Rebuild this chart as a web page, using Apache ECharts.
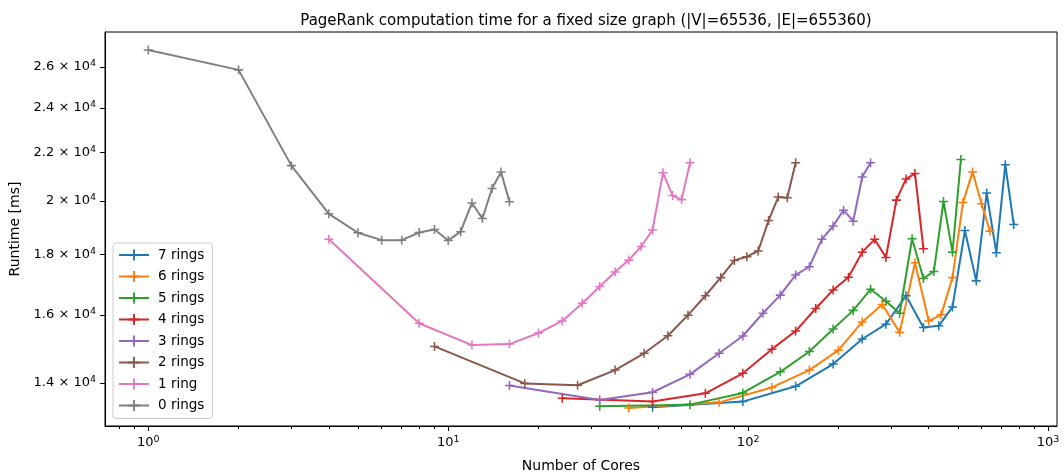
<!DOCTYPE html>
<html>
<head>
<meta charset="utf-8">
<script src="https://cdn.jsdelivr.net/npm/echarts@6/dist/echarts.min.js"></script>
<style>
html,body{margin:0;padding:0;background:#fff;}
#chart{width:1064px;height:475px;}
</style>
</head>
<body>
<div id="chart"></div>
<script>
var seriesNames = ['7 rings','6 rings','5 rings','4 rings','3 rings','2 rings','1 ring','0 rings'];

var cores7 = [48,96,144,192,240,288,336,384,432,480,528,576,624,672,720,768];
var rt7 = [13350,13500,13910,14530,15260,15710,16610,15610,15660,16250,18870,17100,20310,18070,21470,19100];

var cores6 = [40,80,120,160,200,240,280,320,360,400,440,480,520,560,600,640];
var rt6 = [13330,13480,13880,14360,14930,15780,16330,15460,17720,15810,16000,17210,19940,21160,19890,18850];

var cores5 = [32,64,96,128,160,192,224,256,288,320,352,384,416,448,480,512];
var rt5 = [13380,13420,13730,14310,14890,15560,16140,16820,16430,16050,18570,17180,17420,19980,18090,21690];

var cores4 = [24,48,72,96,120,144,168,192,216,240,264,288,312,336,360,384];
var rt4 = [13590,13500,13720,14270,14960,15500,16200,16800,17220,18090,18550,17900,20030,20880,21100,18210];

var cores3 = [16,32,48,64,80,96,112,128,144,160,176,192,208,224,240,256];
var rt3 = [13930,13540,13750,14240,14840,15350,16050,16630,17300,17580,18550,19040,19640,19220,20960,21550];

var cores2 = [9,18,27,36,45,54,63,72,81,90,99,108,117,126,135,144];
var rt2 = [15040,13990,13940,14360,14840,15360,15990,16610,17210,17800,17930,18130,19250,20150,20120,21550];

var cores1 = [4,8,12,16,20,24,28,32,36,40,44,48,52,56,60,64];
var rt1 = [18550,15740,15080,15110,15440,15810,16370,16910,17400,17810,18290,18890,21130,20210,20050,21550];

var cores0 = [1,2,3,4,5,6,7,8,9,10,11,12,13,14,15,16];
var rt0 = [26880,25850,21430,19500,18790,18520,18520,18800,18910,18510,18830,19920,19320,20490,21160,19970];

var xMajorTicks = [1,10,100,1000];
var xMinorTicks = [0.8,0.9,2,3,4,5,6,7,8,9,20,30,40,50,60,70,80,90,200,300,400,500,600,700,800,900];
var yTicks = [14000,16000,18000,20000,22000,24000,26000];

var colors = ['#1f77b4','#ff7f0e','#2ca02c','#d62728','#9467bd','#8c564b','#e377c2','#7f7f7f'];
var allCores = [cores7,cores6,cores5,cores4,cores3,cores2,cores1,cores0];
var allRt = [rt7,rt6,rt5,rt4,rt3,rt2,rt1,rt0];

var plus = 'path://M0,4.15 H10 V5.85 H0 Z M4.15,0 H5.85 V10 H4.15 Z';
var FONT = 'DejaVu Sans';

var series = seriesNames.map(function(name, i){
  return {
    name: name,
    type: 'line',
    xAxisIndex: 0,
    data: allCores[i].map(function(c, j){ return [c, allRt[i][j]]; }),
    symbol: plus,
    symbolSize: 9,
    showAllSymbol: true,
    color: colors[i],
    lineStyle: {width: 2, color: colors[i]},
    itemStyle: {color: colors[i]},
    emphasis: {disabled: true},
    animation: false
  };
});

var chart = echarts.init(document.getElementById('chart'), null, {renderer: 'canvas'});
chart.setOption({
  animation: false,
  backgroundColor: '#fff',
  textStyle: {fontFamily: FONT},
  title: {
    text: 'PageRank computation time for a fixed size graph (|V|=65536, |E|=655360)',
    left: 581, top: 9, textAlign: 'center',
    textStyle: {fontFamily: FONT, fontSize: 15, fontWeight: 'normal', color: '#000'}
  },
  grid: {left: 105, right: 7, top: 32, bottom: 49, containLabel: false, outerBoundsMode: 'none',
         show: true, borderColor: '#000', borderWidth: 1, backgroundColor: 'transparent'},
  legend: {
    orient: 'vertical', left: 113, top: 243,
    data: seriesNames,
    itemWidth: 30, itemHeight: 14, itemGap: 7.5,
    padding: [5, 8, 6, 5],
    backgroundColor: 'rgba(255,255,255,0.8)',
    borderColor: '#cccccc', borderWidth: 1, borderRadius: 3,
    textStyle: {fontFamily: FONT, fontSize: 13.5, color: '#000', padding: [0,0,0,4]},
    selectedMode: false
  },
  xAxis: [{
    type: 'log', logBase: 10, min: 0.7174, max: 1070.7,
    name: 'Number of Cores', nameLocation: 'middle', nameGap: 33,
    nameTextStyle: {fontFamily: FONT, fontSize: 14, color: '#000'},
    axisLine: {show: true, onZero: false, lineStyle: {color: '#000', width: 1}},
    axisTick: {show: true, length: 5, customValues: xMajorTicks, lineStyle: {color: '#000'}},
    axisLabel: {
      show: true, margin: 9, customValues: xMajorTicks,
      formatter: function(v){ return '{a|10}{s|' + Math.round(Math.log10(v)) + '}'; },
      rich: {
        a: {fontFamily: FONT, fontSize: 13, color: '#000'},
        s: {fontFamily: FONT, fontSize: 9.5, color: '#000', verticalAlign: 'top', padding: [0,0,6,0]}
      }
    },
    splitLine: {show: false}
  }, {
    type: 'log', logBase: 10, min: 0.7174, max: 1070.7, position: 'bottom', offset: 0,
    axisLine: {show: false},
    axisTick: {show: true, length: 3, customValues: xMinorTicks, lineStyle: {color: '#000'}},
    axisLabel: {show: false},
    splitLine: {show: false}
  }],
  yAxis: {
    type: 'log', logBase: 10, min: 12870, max: 27840,
    name: 'Runtime [ms]', nameLocation: 'middle', nameGap: 80, nameRotate: 90,
    nameTextStyle: {fontFamily: FONT, fontSize: 14, color: '#000'},
    axisLine: {show: true, lineStyle: {color: '#000', width: 1}},
    axisTick: {show: true, length: 5, customValues: yTicks, lineStyle: {color: '#000'}},
    axisLabel: {
      show: true, margin: 9, customValues: yTicks,
      formatter: function(v){
        var m = Math.round(v / 1000) / 10;
        return '{a|' + m + ' \u00d7 10}{s|4}';
      },
      rich: {
        a: {fontFamily: FONT, fontSize: 13, color: '#000'},
        s: {fontFamily: FONT, fontSize: 9.5, color: '#000', verticalAlign: 'top', padding: [0,0,6,0]}
      }
    },
    splitLine: {show: false}
  },
  series: series
});
</script>
</body>
</html>
